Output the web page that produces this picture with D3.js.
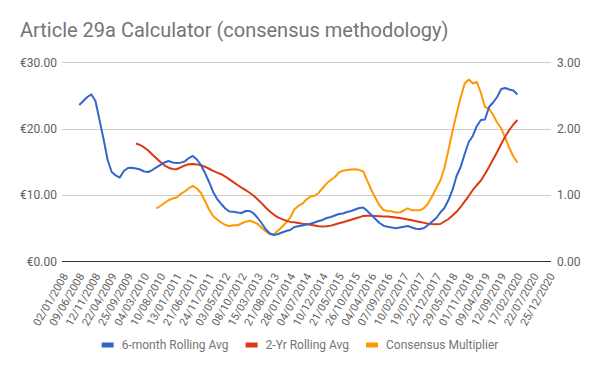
<!DOCTYPE html>
<html>
<head>
<meta charset="utf-8">
<script src="https://cdn.jsdelivr.net/npm/d3@7"></script>
<style>
  html, body { margin: 0; padding: 0; background: #fff; }
  svg { display: block; font-family: Roboto, "Noto Sans", Arial, sans-serif; }
</style>
</head>
<body>
<svg id="chart" width="600" height="371"></svg>
<script>
// ---------- DATA ----------
const title = "Article 29a Calculator (consensus methodology)";
const dateLabels = ["02/01/2008","09/06/2008","12/11/2008","22/04/2009","25/09/2009","04/03/2010","10/08/2010","13/01/2011","21/06/2011","24/11/2011","03/05/2012","08/10/2012","15/03/2013","21/08/2013","28/01/2014","04/07/2014","10/12/2014","21/05/2015","26/10/2015","04/04/2016","07/09/2016","10/02/2017","19/07/2017","22/12/2017","29/05/2018","01/11/2018","09/04/2019","12/09/2019","17/02/2020","22/07/2020","25/12/2020"];
const seriesNames = ["6-month Rolling Avg", "2-Yr Rolling Avg", "Consensus Multiplier"];
const leftTicks = [0, 10, 20, 30];
const rightTicks = [0, 1, 2, 3];
// samples taken every quarter of a label interval; start = first sample index
const samplesPerLabel = 4;
const sixMonthStart = 4;
const sixMonthAvg = [23.56,24.17,24.77,25.15,24.17,21.30,18.44,15.27,13.46,12.94,12.63,13.61,14.07,14.10,13.99,13.84,13.54,13.46,13.76,14.17,14.52,14.90,15.12,14.90,14.82,14.87,15.05,15.57,15.88,15.35,14.52,13.31,11.96,10.45,9.39,8.64,7.96,7.51,7.48,7.36,7.28,7.58,7.58,7.21,6.53,5.70,4.79,4.19,3.97,4.12,4.34,4.57,4.72,5.17,5.29,5.40,5.55,5.67,5.85,6.08,6.23,6.53,6.68,6.90,7.13,7.21,7.43,7.58,7.81,8.04,8.11,7.58,6.98,6.38,5.77,5.37,5.22,5.10,4.98,5.10,5.22,5.32,5.10,4.90,4.87,5.02,5.47,6.00,6.53,7.36,8.04,9.24,10.75,12.86,14.22,16.18,17.99,18.89,20.40,21.30,21.38,23.26,23.94,24.77,25.98,26.13,25.90,25.75,25.15];
const twoYearStart = 18;
const twoYearAvg = [17.76,17.53,17.16,16.70,16.10,15.53,14.97,14.47,14.11,13.92,13.88,14.17,14.44,14.62,14.67,14.61,14.49,14.26,13.95,13.64,13.37,13.13,12.78,12.36,11.93,11.50,11.11,10.72,10.33,9.89,9.32,8.73,8.07,7.51,7.01,6.63,6.35,6.14,5.94,5.88,5.76,5.65,5.58,5.50,5.40,5.29,5.23,5.28,5.38,5.55,5.73,5.89,6.08,6.26,6.44,6.63,6.84,6.87,6.86,6.83,6.80,6.77,6.74,6.68,6.60,6.53,6.42,6.30,6.18,6.05,5.92,5.79,5.67,5.61,5.58,5.62,6.00,6.38,6.90,7.46,8.19,9.02,9.84,10.75,11.50,12.18,13.16,14.22,15.35,16.48,17.68,18.81,19.80,20.62,21.30];
const multiplierStart = 23;
const multiplier = [0.796,0.834,0.879,0.920,0.947,0.962,1.015,1.052,1.101,1.138,1.098,1.030,0.909,0.781,0.683,0.630,0.585,0.547,0.532,0.543,0.544,0.570,0.597,0.612,0.592,0.562,0.502,0.449,0.409,0.407,0.464,0.517,0.585,0.660,0.781,0.834,0.868,0.932,0.977,0.987,1.030,1.105,1.176,1.226,1.271,1.339,1.366,1.376,1.384,1.389,1.379,1.354,1.211,1.075,0.954,0.841,0.773,0.758,0.755,0.736,0.736,0.766,0.799,0.769,0.770,0.769,0.804,0.874,0.984,1.105,1.218,1.407,1.678,1.964,2.221,2.470,2.681,2.741,2.681,2.703,2.537,2.326,2.304,2.206,2.093,2.005,1.859,1.708,1.580,1.490];
const colors = ["#3366cc", "#dc3912", "#ff9900"];

// ---------- CHART ----------
const svg = d3.select("#chart");
const plot = { left: 62, right: 551, top: 62.3, bottom: 261.3 };

const x = d3.scaleLinear().domain([0, dateLabels.length - 1]).range([63, 549.9]);
const yL = d3.scaleLinear().domain([0, 30]).range([plot.bottom, plot.top]);
const yR = d3.scaleLinear().domain([0, 3]).range([plot.bottom, plot.top]);

svg.append("rect").attr("width", 600).attr("height", 371).attr("fill", "#fff");

svg.append("text").attr("x", 20).attr("y", 37)
  .attr("font-size", 20).attr("fill", "#757575").text(title);

// gridlines
svg.append("g").selectAll("line").data(leftTicks.filter(d => d !== 0)).join("line")
  .attr("x1", plot.left).attr("x2", plot.right)
  .attr("y1", d => Math.round(yL(d)) + 0.5).attr("y2", d => Math.round(yL(d)) + 0.5)
  .attr("stroke", "#cccccc").attr("stroke-width", 1);

// left axis labels
const euro = d3.format(",.2f");
svg.append("g").selectAll("text").data(leftTicks).join("text")
  .attr("x", 57).attr("y", d => yL(d)).attr("dy", "0.35em")
  .attr("text-anchor", "end").attr("font-size", 12).attr("fill", "#616161")
  .text(d => "€" + euro(d));

// right axis labels
svg.append("g").selectAll("text").data(rightTicks).join("text")
  .attr("x", 557).attr("y", d => yR(d)).attr("dy", "0.35em")
  .attr("text-anchor", "start").attr("font-size", 12).attr("fill", "#616161")
  .text(d => euro(d));

// x labels
svg.append("g").selectAll("text").data(dateLabels).join("text")
  .attr("transform", (d, i) => `translate(${x(i) + 5.5},276) rotate(-60)`)
  .attr("text-anchor", "end").attr("font-size", 11).attr("fill", "#616161")
  .text(d => d);

// lines
function makeSeries(vals, start) {
  return vals.map((v, j) => ({ i: (start + j) / samplesPerLabel, v }));
}
const lineL = d3.line().x(d => x(d.i)).y(d => yL(d.v));
const lineR = d3.line().x(d => x(d.i)).y(d => yR(d.v));

svg.append("path").datum(makeSeries(multiplier, multiplierStart))
  .attr("d", lineR).attr("fill", "none").attr("stroke", colors[2])
  .attr("stroke-width", 2).attr("stroke-linejoin", "round");
svg.append("path").datum(makeSeries(twoYearAvg, twoYearStart))
  .attr("d", lineL).attr("fill", "none").attr("stroke", colors[1])
  .attr("stroke-width", 2).attr("stroke-linejoin", "round");
svg.append("path").datum(makeSeries(sixMonthAvg, sixMonthStart))
  .attr("d", lineL).attr("fill", "none").attr("stroke", colors[0])
  .attr("stroke-width", 2).attr("stroke-linejoin", "round");

// baseline
svg.append("line").attr("x1", plot.left).attr("x2", plot.right)
  .attr("y1", Math.round(plot.bottom) + 0.5).attr("y2", Math.round(plot.bottom) + 0.5)
  .attr("stroke", "#333333").attr("stroke-width", 1);

// legend
const legend = svg.append("g");
const items = legend.selectAll("g").data(seriesNames).join("g");
items.append("rect").attr("width", 12).attr("height", 5).attr("y", 342.5)
  .attr("fill", (d, i) => colors[i]);
items.append("text").attr("x", 20).attr("y", 345).attr("dy", "0.35em")
  .attr("font-size", 12).attr("fill", "#757575").text(d => d);
const widths = [];
items.each(function () { widths.push(20 + this.querySelector("text").getComputedTextLength()); });
const gap = 17;
const total = d3.sum(widths) + gap * (widths.length - 1);
let cx = 300 - total / 2;
items.attr("transform", (d, i) => { const t = `translate(${cx},0)`; cx += widths[i] + gap; return t; });
</script>
</body>
</html>
